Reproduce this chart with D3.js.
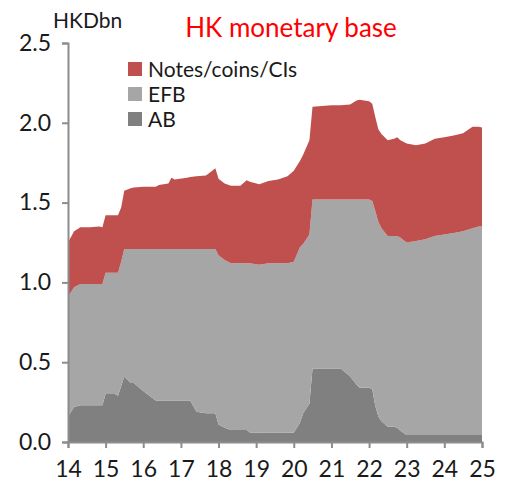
<!DOCTYPE html>
<html>
<head>
<meta charset="utf-8">
<script src="https://cdn.jsdelivr.net/npm/d3@7"></script>
<style>
  body { margin: 0; background: #fff; }
  #vis1-container { width: 506px; height: 484px; }
</style>
</head>
<body>
<div id="vis1-container"></div>
<script>
// monthly-ish observation dates
const dates = [
  "2014-01","2014-03","2014-05","2014-08","2014-11","2014-12",
  "2015-01","2015-04","2015-05","2015-06","2015-07","2015-09","2015-10",
  "2016-01","2016-05","2016-06","2016-09","2016-10","2016-11",
  "2017-03","2017-04","2017-06","2017-09","2017-11","2017-12",
  "2018-01","2018-03","2018-05","2018-08","2018-10","2018-11",
  "2019-02","2019-05","2019-08","2019-11",
  "2020-01","2020-03","2020-04","2020-06","2020-07","2020-10",
  "2021-01","2021-04","2021-07","2021-09","2021-10",
  "2022-01","2022-02","2022-03","2022-04","2022-05","2022-07","2022-09","2022-10","2022-11",
  "2023-01","2023-04","2023-07","2023-10",
  "2024-01","2024-04","2024-07","2024-10","2024-12","2025-01"
];

const ab = [
  0.16,0.22,0.23,0.23,0.23,0.23,
  0.30,0.30,0.29,0.35,0.41,0.37,0.37,
  0.32,0.26,0.26,0.26,0.26,0.26,
  0.26,0.26,0.19,0.18,0.18,0.18,
  0.11,0.09,0.075,0.075,0.075,0.06,
  0.058,0.058,0.058,0.058,
  0.058,0.12,0.18,0.24,0.46,0.46,
  0.46,0.46,0.41,0.36,0.34,
  0.34,0.33,0.23,0.16,0.13,0.096,0.096,0.09,0.07,
  0.044,0.044,0.044,0.044,
  0.044,0.044,0.044,0.044,0.044,0.044
];

const efb = [
  0.75,0.75,0.76,0.76,0.76,0.76,
  0.76,0.76,0.77,0.78,0.80,0.84,0.84,
  0.89,0.95,0.95,0.95,0.95,0.95,
  0.95,0.95,1.02,1.03,1.03,1.03,
  1.06,1.05,1.045,1.045,1.045,1.06,
  1.052,1.062,1.062,1.062,
  1.072,1.10,1.06,1.06,1.06,1.06,
  1.06,1.06,1.11,1.16,1.18,
  1.18,1.18,1.22,1.22,1.21,1.194,1.194,1.20,1.21,
  1.206,1.216,1.226,1.246,
  1.256,1.266,1.276,1.296,1.306,1.306
];

const notes = [
  0.34,0.35,0.355,0.355,0.36,0.355,
  0.36,0.36,0.36,0.34,0.365,0.38,0.385,
  0.39,0.39,0.40,0.41,0.445,0.435,
  0.445,0.45,0.455,0.46,0.49,0.505,
  0.48,0.48,0.485,0.485,0.52,0.51,
  0.505,0.515,0.525,0.545,
  0.57,0.54,0.56,0.59,0.58,0.585,
  0.59,0.59,0.595,0.62,0.625,
  0.615,0.61,0.59,0.58,0.59,0.60,0.61,0.62,0.61,
  0.62,0.60,0.60,0.61,
  0.61,0.61,0.615,0.635,0.625,0.62
];

const seriesKeys = ["ab", "efb", "notes"];
const legendNames = ["Notes/coins/CIs", "EFB", "AB"];
const yTicks = [0, 0.5, 1.0, 1.5, 2.0, 2.5];
const xTickYears = [2014,2015,2016,2017,2018,2019,2020,2021,2022,2023,2024,2025];

const v1_container = d3.select("#vis1-container");

const
    height = 484,
    width = 506,
    margin = { top: 43, right: 24, bottom: 42, left: 68 },
    monthParse = d3.timeParse("%Y-%m"),
    svg = v1_container.append("svg").attr("width", width).attr("height", height);

var colors = {
    notes: "#c0504d",
    efb: "#a6a6a6",
    ab: "#808080"
};

const axisColor = "#8c8c8c";
const font = "Lato, 'Open Sans', sans-serif";

var table = dates.map((d, i) => ({
    date: monthParse(d),
    ab: ab[i],
    efb: efb[i],
    notes: notes[i]
}));

var x = d3.scaleTime()
    .domain([new Date(2014, 0, 1), new Date(2025, 0, 1)])
    .range([margin.left, width - margin.right]);

var y = d3.scaleLinear()
    .domain([0, 2.5])
    .range([height - margin.bottom, margin.top]);

var stacked = d3.stack().keys(seriesKeys)(table);

var area = d3.area()
    .x(d => x(d.data.date))
    .y0(d => y(d[0]))
    .y1(d => y(d[1]));

svg.append("g")
    .selectAll("path")
    .data(stacked)
    .enter().append("path")
    .attr("fill", d => colors[d.key])
    .attr("d", area);

// y axis
var yAxis = svg.append("g")
    .attr("transform", `translate(${margin.left},0)`)
    .call(d3.axisLeft(y).tickValues(yTicks).tickFormat(d3.format(".1f")).tickSize(6).tickPadding(11));
yAxis.select(".domain").attr("stroke", axisColor).attr("stroke-width", 2);
yAxis.selectAll(".tick line").attr("stroke", axisColor).attr("stroke-width", 2);
yAxis.selectAll(".tick text")
    .attr("fill", "#1a1a1a")
    .style("font-family", font)
    .style("font-size", "23px");

// x axis
var xAxis = svg.append("g")
    .attr("transform", `translate(0,${height - margin.bottom})`)
    .call(d3.axisBottom(x)
        .tickValues(xTickYears.map(yr => new Date(yr, 0, 1)))
        .tickFormat(d3.timeFormat("%y"))
        .tickSize(6).tickPadding(13));
xAxis.select(".domain").attr("stroke", axisColor).attr("stroke-width", 2);
xAxis.selectAll(".tick line").attr("stroke", axisColor).attr("stroke-width", 2);
xAxis.selectAll(".tick text")
    .attr("fill", "#1a1a1a")
    .style("font-family", font)
    .style("font-size", "23px");

// unit label and title
svg.append("text")
    .attr("x", 53)
    .attr("y", 28)
    .attr("fill", "#1a1a1a")
    .style("font-family", font)
    .style("font-size", "21px")
    .text("HKDbn");

svg.append("text")
    .attr("x", 291)
    .attr("y", 37)
    .attr("fill", "#ff0000")
    .style("text-anchor", "middle")
    .style("font-family", font)
    .style("font-size", "26px")
    .text("HK monetary base");

// legend
var legendKeys = ["notes", "efb", "ab"];
var legend = svg.append("g")
    .selectAll("g")
    .data(legendKeys)
    .enter().append("g")
    .attr("transform", (d, i) => `translate(128,${62 + i * 25})`);

legend.append("rect")
    .attr("width", 14)
    .attr("height", 14)
    .attr("fill", d => colors[d]);

legend.append("text")
    .attr("x", 20)
    .attr("y", 14.5)
    .attr("fill", "#1a1a1a")
    .style("font-family", font)
    .style("font-size", "21px")
    .text((d, i) => legendNames[i]);
</script>
</body>
</html>
